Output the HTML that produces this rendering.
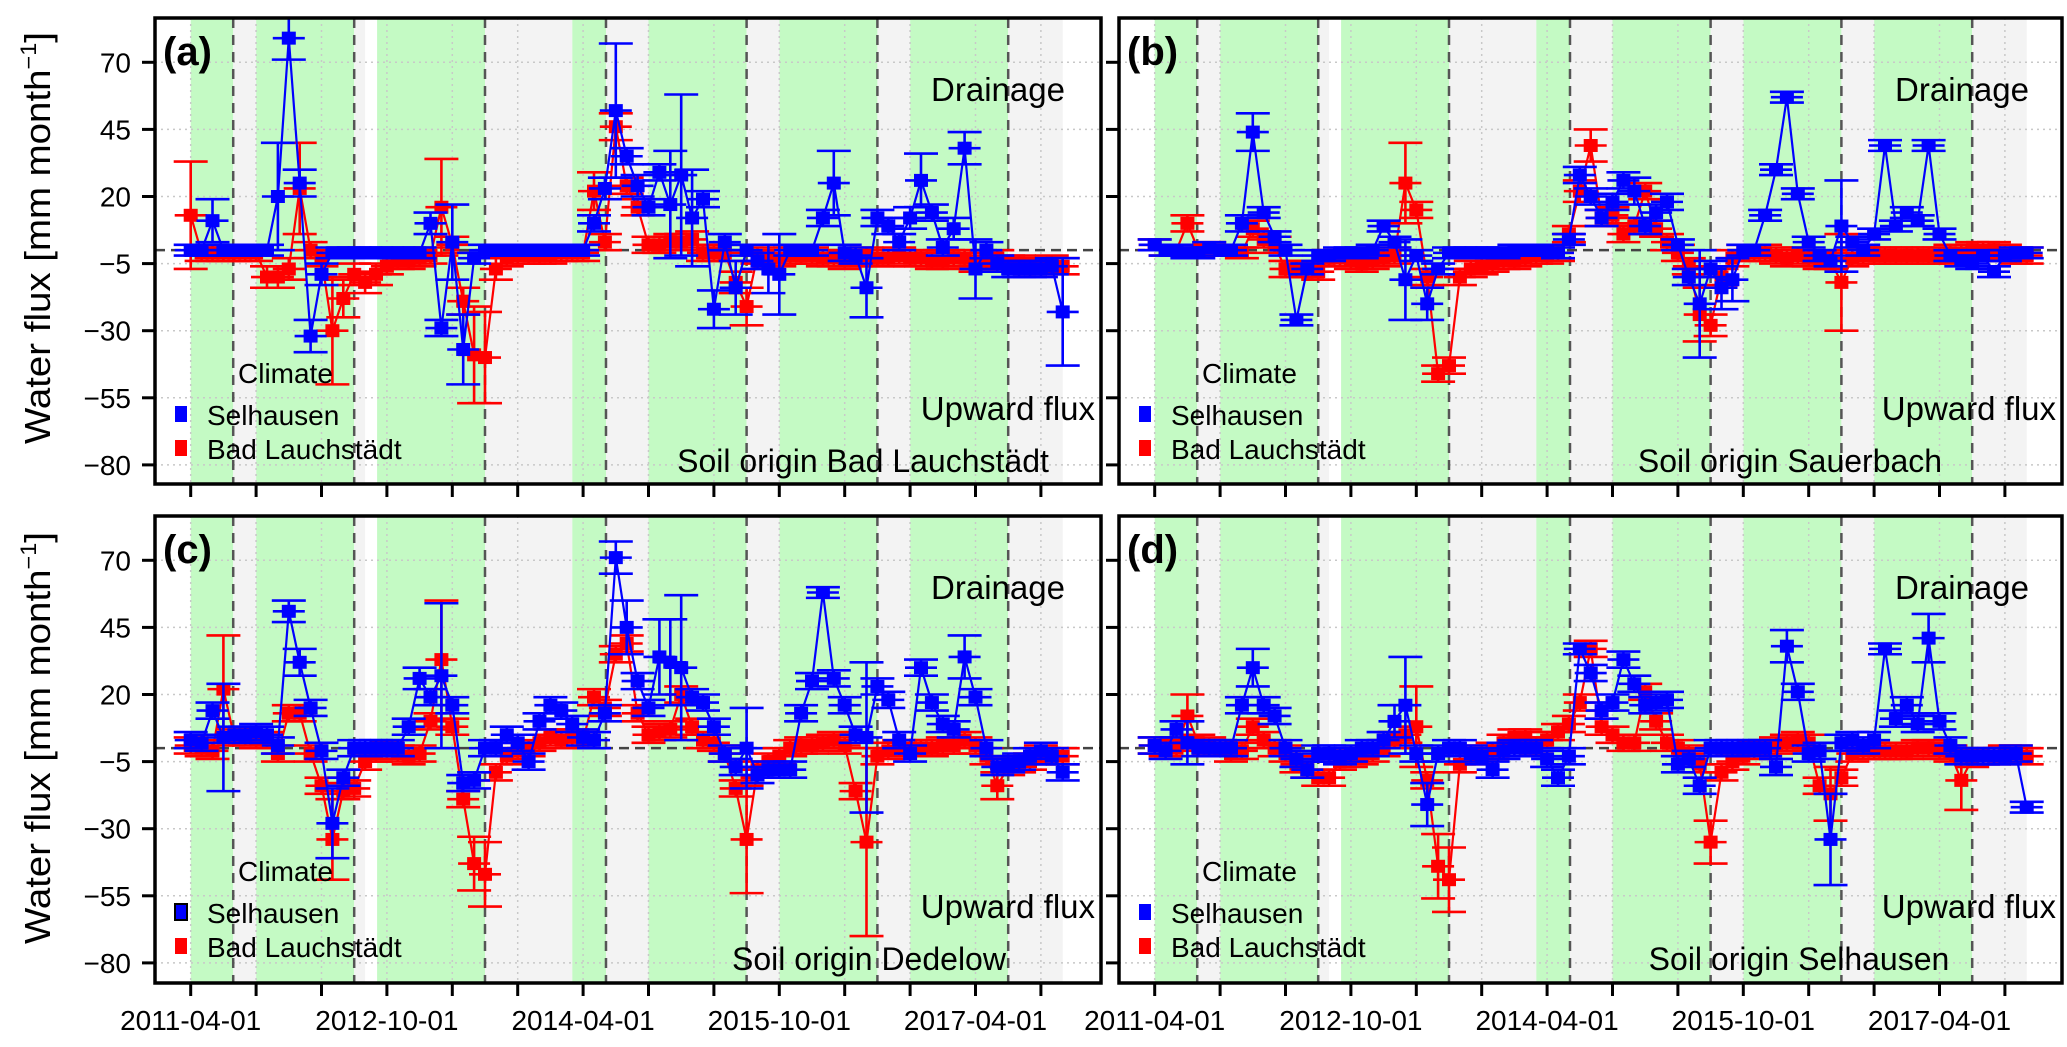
<!DOCTYPE html>
<html><head><meta charset="utf-8">
<style>
html,body{margin:0;padding:0;background:#fff;}
svg{display:block;font-family:"Liberation Sans",Arial,sans-serif;}
</style></head>
<body>
<svg id="chart" width="2067" height="1047" viewBox="0 0 2067 1047" xmlns="http://www.w3.org/2000/svg">
<defs>
<clipPath id="clip-a"><rect x="155" y="18" width="946" height="466"/></clipPath>
<clipPath id="clip-b"><rect x="1119" y="18" width="943" height="466"/></clipPath>
<clipPath id="clip-c"><rect x="155" y="516" width="946" height="467"/></clipPath>
<clipPath id="clip-d"><rect x="1119" y="516" width="943" height="467"/></clipPath>
</defs>
<text transform="translate(50,238) rotate(-90)" text-anchor="middle" font-size="36" textLength="412" lengthAdjust="spacingAndGlyphs">Water flux [mm month<tspan dy="-14" font-size="22">−1</tspan><tspan dy="14">]</tspan></text>
<text transform="translate(50,738) rotate(-90)" text-anchor="middle" font-size="36" textLength="412" lengthAdjust="spacingAndGlyphs">Water flux [mm month<tspan dy="-14" font-size="22">−1</tspan><tspan dy="14">]</tspan></text>
</svg>
<script>
// ---- data (monthly, index 0 = 2011-04) ----
const xTickLabels = ["2011-04-01","","","2012-10-01","","","2014-04-01","","","2015-10-01","","","2017-04-01",""];
const yTicks = [70,45,20,-5,-30,-55,-80];
const greenBands = [[0,3.9],[6,15],[17.1,27],[35,38.1],[42,51],[54,63],[66,75]];
const grayBands = [[3.9,6],[15,16],[27,35],[38.1,42],[51,54],[63,66],[75,80]];
const harvestLines = [3.9,15,27,38.1,51,63,75];

const blueA = [0,0,11,0,0,0,0,0,20,79,25,-32,-9,-1,-1,-1,-1,-1,-1,-1,-1,-1,10,-29,3,-37,-3,0,0,0,0,0,0,0,0,0,0,10,23,52,35,24,16,29,17,28,12,19,-22,3,-14,0,-4,-7,-9,0,0,0,12,25,-1,-2,-14,12,9,3,12,26,14,1,8,38,-7,0,-5,-7,-7,-7,-7,-6,-23];
const blueAErr = [2,2,8,2,2,2,2,2,20,8,5,6,4,2,2,2,2,2,2,2,2,2,4,3,14,13,2,2,2,2,2,2,2,2,2,2,2,3,4,25,3,4,3,3,20,30,18,3,7,3,10,2,3,9,15,2,2,2,3,12,3,3,11,3,3,3,4,10,3,3,4,6,11,3,3,3,3,3,3,3,20];
const redA = [13,-1,-1,-1,-1,-1,-1,-10,-10,-7,23,0,-3,-30,-18,-9,-12,-9,-6,-4,-4,-3,-2,16,2,-19,-39,-40,-7,-3,-2,-2,-2,-2,-1,-1,-1,22,3,46,24,16,2,2,3,3,4,-1,-1,-1,-12,-21,-2,-3,-3,-2,-2,-2,-3,-3,-4,-3,-2,-3,-3,-2,-3,-3,-4,-4,-3,-3,-5,-4,-3,-5,-5,-6,-6,-5,-6];
const redAErr = [20,3,3,3,3,3,3,4,4,4,17,3,3,20,7,4,4,4,3,3,3,3,3,18,3,5,18,17,4,3,3,3,3,3,3,3,3,7,3,5,3,3,3,3,3,3,3,3,3,3,4,7,3,3,3,3,3,3,3,3,3,3,3,3,3,3,3,3,3,3,3,3,3,3,3,3,3,3,3,3,3];

const blueB = [2,0,0,-1,-1,1,0,0,10,44,14,5,0,-26,-7,-2,-2,-1,-1,-1,0,9,3,-11,-2,-20,-7,-1,-1,-1,-1,-1,-1,0,0,0,0,-1,4,28,20,12,18,26,22,9,14,18,2,-10,-20,-7,-14,-11,0,0,13,30,57,21,3,-2,-4,9,3,0,6,39,9,14,11,39,6,-2,-4,-5,-2,-8,-2,-1,-1];
const blueBErr = [2,2,2,2,2,2,2,2,3,7,2,2,2,2,2,2,2,2,2,2,2,2,2,15,2,6,2,2,2,2,2,2,2,2,2,2,2,2,2,3,3,3,3,3,5,3,3,3,2,3,20,3,8,8,2,2,2,2,2,2,2,2,2,17,2,2,2,2,2,2,2,2,2,2,2,2,2,2,2,2,2];
const redB = [2,0,0,10,0,1,0,0,-1,8,4,2,-7,-7,-7,-8,-3,-3,-4,-5,-4,-3,-2,25,15,-10,-46,-43,-10,-7,-6,-5,-4,-4,-3,-2,-2,-1,6,22,39,12,13,6,9,22,8,3,-1,-6,-24,-28,-10,-3,-1,-1,-1,-2,-3,-2,-3,-4,-4,-12,-3,-2,-2,-2,-2,-2,-2,-2,-2,-1,-1,0,0,0,-1,-2,-2];
const redBErr = [2,2,2,3,2,2,2,2,2,3,3,3,3,3,3,3,3,3,3,3,3,3,3,15,3,3,3,3,3,3,3,3,3,3,3,3,3,3,3,4,6,3,3,3,3,3,3,3,3,3,10,4,3,3,3,3,3,3,3,3,3,3,3,18,3,3,3,3,3,3,3,3,3,3,3,3,3,3,3,3,3];

const blueC = [3,2,14,4,5,5,6,5,1,51,32,15,-1,-28,-11,0,0,0,0,0,8,26,19,27,16,-13,-12,0,0,5,2,-5,10,16,14,9,4,3,13,71,45,25,15,34,32,30,19,17,8,-2,-7,0,-10,-8,-8,-8,13,25,58,26,16,5,4,23,18,3,-2,30,17,9,7,34,19,0,-7,-6,-5,-3,-1,-3,-9];
const blueCErr = [3,3,3,20,3,3,3,3,3,4,5,3,3,13,3,3,3,3,3,3,3,4,3,27,3,3,3,3,3,3,3,3,3,3,3,3,3,3,3,6,10,3,3,14,16,27,3,3,3,3,3,15,3,3,3,3,3,3,2,3,3,3,28,3,3,3,3,3,3,3,3,8,3,3,3,3,3,3,3,3,3];
const redC = [1,0,-1,22,4,4,3,3,-2,13,13,-2,-14,-34,-16,-15,-5,-2,-1,-2,-3,-2,10,33,8,-19,-43,-47,-9,-3,-1,0,2,4,3,4,3,19,15,35,39,13,5,6,7,20,8,3,2,-2,-15,-34,-8,-5,-3,0,1,1,2,3,1,-16,-35,-3,-1,0,0,0,0,1,1,3,1,-3,-14,-7,-6,-5,-2,-3,-3];
const redCErr = [3,3,3,20,3,3,3,3,3,3,3,3,3,15,3,3,3,3,3,3,3,3,3,22,3,3,10,12,3,3,3,3,3,3,3,3,3,3,3,3,3,3,3,3,3,3,3,3,3,3,3,20,3,3,3,3,3,3,3,3,3,3,35,3,3,3,3,3,3,3,3,3,3,3,5,3,3,3,3,3,3];

const blueD = [1,-1,7,2,0,0,0,0,16,30,16,12,0,-4,-8,-2,-2,-3,-2,0,0,3,10,16,-2,-21,-2,0,0,-2,-3,-8,-1,0,0,0,-4,-11,-3,37,28,14,17,33,24,16,17,18,-6,-4,-14,0,0,0,0,0,0,-7,38,21,-2,-1,-34,2,3,1,3,37,11,16,9,41,10,1,-3,-3,-3,-3,-3,-2,-22];
const blueDErr = [3,3,3,8,3,3,3,3,3,7,3,3,3,3,3,3,3,3,3,3,3,3,6,18,3,8,3,3,3,3,3,3,3,3,3,3,3,3,3,2,3,3,3,3,3,3,3,3,3,3,3,3,3,3,3,3,3,3,6,3,3,3,17,3,3,3,3,2,3,3,3,9,3,3,3,3,3,3,3,3,2];
const redD = [1,0,0,12,2,1,0,-2,-1,8,3,0,-2,-6,-8,-11,-11,-5,-4,-3,-2,0,3,5,8,-12,-44,-49,-6,-3,-2,-1,2,4,4,1,3,6,9,17,37,8,5,2,2,21,10,2,0,-2,-6,-35,-9,-5,-3,-1,0,1,2,3,2,-14,-17,-11,-2,-1,-1,-1,-1,-1,0,0,-1,-2,-12,-4,-3,-3,-2,-2,-3];
const redDErr = [3,3,3,8,3,3,3,3,3,3,3,3,3,3,3,3,3,3,3,3,3,3,3,3,15,3,12,12,3,3,3,3,3,3,3,3,3,3,3,3,3,3,3,3,3,3,3,3,3,3,3,8,3,3,3,3,3,3,3,3,3,3,10,3,3,3,3,3,3,3,3,3,3,3,11,3,3,3,3,3,3];

const panels = [
 {id:"a", l:155, r:1101, t:18, b:484, blue:blueA, blueErr:blueAErr, red:redA, redErr:redAErr, soil:"Soil origin Bad Lauchstädt", soilX:863, yLabels:true, xLabels:false},
 {id:"b", l:1119, r:2062, t:18, b:484, blue:blueB, blueErr:blueBErr, red:redB, redErr:redBErr, soil:"Soil origin Sauerbach", soilX:1790, yLabels:false, xLabels:false},
 {id:"c", l:155, r:1101, t:516, b:983, blue:blueC, blueErr:blueCErr, red:redC, redErr:redCErr, soil:"Soil origin Dedelow", soilX:869, yLabels:true, xLabels:true},
 {id:"d", l:1119, r:2062, t:516, b:983, blue:blueD, blueErr:blueDErr, red:redD, redErr:redDErr, soil:"Soil origin Selhausen", soilX:1799, yLabels:false, xLabels:true}
];

const NS = "http://www.w3.org/2000/svg";
const svg = document.getElementById("chart");
function mk(tag, attrs, parent){
  const e = document.createElementNS(NS, tag);
  for (const k in attrs) e.setAttribute(k, attrs[k]);
  (parent||svg).appendChild(e);
  return e;
}
function xOf(p, m){ return p.l + 35.7 + m*10.9; }
function yOf(p, v){ return p.t + 44.3 + (70 - v)*2.684; }

panels.forEach(p => {
  const g = mk("g", {"clip-path":"url(#clip-"+p.id+")"});
  
  
  greenBands.forEach(b => {
    const r = mk("rect", {x:xOf(p,b[0]), y:p.t, width:xOf(p,b[1])-xOf(p,b[0]), height:p.b-p.t, fill:"#c4fac4"}, g);
    
    
  });
  grayBands.forEach(b => {
    const r = mk("rect", {x:xOf(p,b[0]), y:p.t, width:xOf(p,b[1])-xOf(p,b[0]), height:p.b-p.t, fill:"#f3f3f3"}, g);
    
    
  });
  yTicks.forEach(v => {
    const l = mk("line", {x1:p.l, x2:p.r, y1:yOf(p,v), y2:yOf(p,v), stroke:"#c8c8c8", "stroke-width":1.5, "stroke-dasharray":"2 4"}, g);
    
    
  });
  xTickLabels.forEach((lab, i) => {
    const x = xOf(p, i*6);
    const l = mk("line", {x1:x, x2:x, y1:p.t, y2:p.b, stroke:"#c8c8c8", "stroke-width":1.5, "stroke-dasharray":"2 4"}, g);
    
    
  });
  harvestLines.forEach(m => {
    const l = mk("line", {x1:xOf(p,m), x2:xOf(p,m), y1:p.t, y2:p.b, stroke:"#555", "stroke-width":2.5, "stroke-dasharray":"10 7"}, g);
    
    
  });
  const z = mk("line", {x1:p.l, x2:p.r, y1:yOf(p,0), y2:yOf(p,0), stroke:"#444", "stroke-width":2.5, "stroke-dasharray":"10 6"}, g);
  
  

  [["red","#ff0000",p.red,p.redErr],["blue","#0000ff",p.blue,p.blueErr]].forEach(s => {
    const col = s[1], vals = s[2], errs = s[3];
    const sg = mk("g", {}, g);
    
    
    let d = "";
    vals.forEach((v,i) => { d += (i? "L":"M") + xOf(p,i).toFixed(1) + " " + yOf(p,v).toFixed(1); });
    const path = mk("path", {d:d, fill:"none", stroke:col, "stroke-width":2.2}, sg);
    
    
    vals.forEach((v,i) => {
      const x = xOf(p,i), y = yOf(p,v), e = errs[i];
      const y1 = yOf(p, v+e), y2 = yOf(p, v-e);
      const eb = mk("path", {d:"M"+x+" "+y1+"L"+x+" "+y2+"M"+(x-17)+" "+y1+"L"+(x+17)+" "+y1+"M"+(x-17)+" "+y2+"L"+(x+17)+" "+y2+"M"+(x-16)+" "+y+"L"+(x+16)+" "+y, stroke:col, "stroke-width":2.6, fill:"none"}, sg);
      
      
      const sq = mk("rect", {x:x-7, y:y-6.5, width:14, height:13, fill:col}, sg);
      
      
    });
  });

  const fr = mk("rect", {x:p.l, y:p.t, width:p.r-p.l, height:p.b-p.t, fill:"none", stroke:"#000", "stroke-width":3.5});
  
  

  yTicks.forEach(v => {
    const y = yOf(p,v);
    const t = mk("line", {x1:p.l-13, x2:p.l, y1:y, y2:y, stroke:"#000", "stroke-width":3});
    
    
    if (p.yLabels) {
      const tx = mk("text", {x:p.l-24, y:y+10, "text-anchor":"end", "font-size":28});
      
      
      tx.textContent = String(v).replace("-", "−");
    }
  });
  xTickLabels.forEach((lab, i) => {
    const x = xOf(p, i*6);
    const t = mk("line", {x1:x, x2:x, y1:p.b, y2:p.b+13, stroke:"#000", "stroke-width":3});
    
    
    if (p.xLabels && lab) {
      const tx = mk("text", {x:x, y:1030, "text-anchor":"middle", "font-size":28});
      
      
      tx.textContent = lab;
    }
  });

  const tl = mk("text", {x:p.l+8, y:p.t+47, "font-size":40, "font-weight":"bold"});
  
  
  tl.textContent = "(" + p.id + ")";

  const dr = mk("text", {x:p.l+843, y:p.t+83, "text-anchor":"middle", "font-size":33});
  
  
  dr.textContent = "Drainage";

  const up = mk("text", {x:p.r-6, y:p.t+402, "text-anchor":"end", "font-size":33});
  
  
  up.textContent = "Upward flux";

  const so = mk("text", {x:p.soilX, y:p.t+454, "text-anchor":"middle", "font-size":32});
  
  
  so.textContent = p.soil;

  const cl = mk("text", {x:p.l+83, y:p.t+365, "font-size":28});
  
  
  cl.textContent = "Climate";

  const lg = mk("g", {});
  
  
  const bsq = mk("rect", {x:p.l+20, y:p.t+388, width:12, height:16, fill:"#0000ff", stroke:(p.id==="c"?"#000":"none"), "stroke-width":2}, lg);
  
  
  const bt = mk("text", {x:p.l+52, y:p.t+407, "font-size":28}, lg);
  
  
  bt.textContent = "Selhausen";
  const rsq = mk("rect", {x:p.l+20, y:p.t+422, width:12, height:16, fill:"#ff0000"}, lg);
  
  
  const rt = mk("text", {x:p.l+52, y:p.t+441, "font-size":28}, lg);
  
  
  rt.textContent = "Bad Lauchstädt";
});
</script>
</body></html>
